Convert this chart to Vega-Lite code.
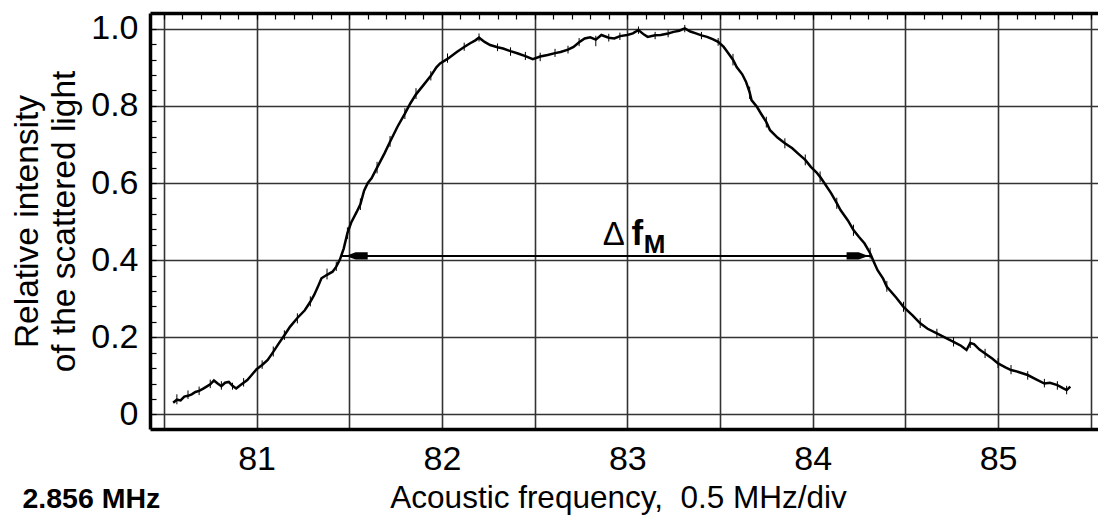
{
  "$schema": "https://vega.github.io/schema/vega-lite/v6.json",
  "width": 950,
  "height": 416,
  "autosize": {"type": "none"},
  "padding": {"left": 150, "top": 13, "right": 0, "bottom": 86},
  "background": "white",
  "config": {"view": {"stroke": null}, "font": "Liberation Sans"},
  "datasets": {
    "curve": [
      {"x": 80.55, "y": 0.030}, {"x": 80.57, "y": 0.038}, {"x": 80.59, "y": 0.036}, {"x": 80.61, "y": 0.046},
      {"x": 80.63, "y": 0.048}, {"x": 80.65, "y": 0.052}, {"x": 80.67, "y": 0.058}, {"x": 80.69, "y": 0.061},
      {"x": 80.71, "y": 0.066}, {"x": 80.73, "y": 0.072}, {"x": 80.75, "y": 0.078}, {"x": 80.77, "y": 0.088},
      {"x": 80.79, "y": 0.080}, {"x": 80.81, "y": 0.073}, {"x": 80.83, "y": 0.082}, {"x": 80.85, "y": 0.084},
      {"x": 80.87, "y": 0.074}, {"x": 80.89, "y": 0.067}, {"x": 80.91, "y": 0.075}, {"x": 80.93, "y": 0.082},
      {"x": 80.95, "y": 0.089}, {"x": 80.97, "y": 0.100}, {"x": 81.00, "y": 0.117}, {"x": 81.03, "y": 0.128},
      {"x": 81.06, "y": 0.141}, {"x": 81.09, "y": 0.162}, {"x": 81.12, "y": 0.184}, {"x": 81.15, "y": 0.205},
      {"x": 81.18, "y": 0.227}, {"x": 81.22, "y": 0.250}, {"x": 81.26, "y": 0.270}, {"x": 81.29, "y": 0.292},
      {"x": 81.31, "y": 0.309}, {"x": 81.33, "y": 0.330}, {"x": 81.35, "y": 0.353}, {"x": 81.38, "y": 0.362},
      {"x": 81.41, "y": 0.370}, {"x": 81.43, "y": 0.383}, {"x": 81.45, "y": 0.402}, {"x": 81.47, "y": 0.430},
      {"x": 81.49, "y": 0.470}, {"x": 81.51, "y": 0.497}, {"x": 81.54, "y": 0.525}, {"x": 81.56, "y": 0.545},
      {"x": 81.58, "y": 0.580}, {"x": 81.60, "y": 0.600}, {"x": 81.62, "y": 0.612}, {"x": 81.65, "y": 0.640},
      {"x": 81.69, "y": 0.677}, {"x": 81.72, "y": 0.707}, {"x": 81.76, "y": 0.746}, {"x": 81.80, "y": 0.780},
      {"x": 81.83, "y": 0.807}, {"x": 81.86, "y": 0.830}, {"x": 81.90, "y": 0.854}, {"x": 81.94, "y": 0.878},
      {"x": 81.97, "y": 0.900}, {"x": 81.99, "y": 0.910}, {"x": 82.03, "y": 0.922}, {"x": 82.08, "y": 0.940},
      {"x": 82.12, "y": 0.953}, {"x": 82.15, "y": 0.962}, {"x": 82.18, "y": 0.970}, {"x": 82.20, "y": 0.977},
      {"x": 82.23, "y": 0.966}, {"x": 82.26, "y": 0.958}, {"x": 82.30, "y": 0.952}, {"x": 82.33, "y": 0.949},
      {"x": 82.37, "y": 0.942}, {"x": 82.41, "y": 0.936}, {"x": 82.45, "y": 0.929}, {"x": 82.49, "y": 0.921},
      {"x": 82.53, "y": 0.928}, {"x": 82.57, "y": 0.932}, {"x": 82.61, "y": 0.937}, {"x": 82.64, "y": 0.940},
      {"x": 82.68, "y": 0.946}, {"x": 82.71, "y": 0.953}, {"x": 82.74, "y": 0.965}, {"x": 82.77, "y": 0.975},
      {"x": 82.80, "y": 0.978}, {"x": 82.83, "y": 0.972}, {"x": 82.86, "y": 0.984}, {"x": 82.90, "y": 0.977},
      {"x": 82.93, "y": 0.975}, {"x": 82.96, "y": 0.981}, {"x": 83.00, "y": 0.984}, {"x": 83.03, "y": 0.988},
      {"x": 83.06, "y": 0.997}, {"x": 83.09, "y": 0.985}, {"x": 83.11, "y": 0.979}, {"x": 83.15, "y": 0.983},
      {"x": 83.18, "y": 0.984}, {"x": 83.22, "y": 0.988}, {"x": 83.25, "y": 0.992}, {"x": 83.28, "y": 0.995},
      {"x": 83.31, "y": 1.001}, {"x": 83.34, "y": 0.993}, {"x": 83.37, "y": 0.988}, {"x": 83.40, "y": 0.983},
      {"x": 83.43, "y": 0.979}, {"x": 83.46, "y": 0.973}, {"x": 83.49, "y": 0.966}, {"x": 83.52, "y": 0.953},
      {"x": 83.54, "y": 0.940}, {"x": 83.57, "y": 0.920}, {"x": 83.59, "y": 0.901}, {"x": 83.62, "y": 0.882},
      {"x": 83.64, "y": 0.863}, {"x": 83.66, "y": 0.835}, {"x": 83.67, "y": 0.815}, {"x": 83.70, "y": 0.797},
      {"x": 83.72, "y": 0.781}, {"x": 83.75, "y": 0.758}, {"x": 83.77, "y": 0.737}, {"x": 83.81, "y": 0.718},
      {"x": 83.85, "y": 0.703}, {"x": 83.89, "y": 0.690}, {"x": 83.92, "y": 0.677}, {"x": 83.96, "y": 0.660},
      {"x": 83.99, "y": 0.642}, {"x": 84.02, "y": 0.628}, {"x": 84.04, "y": 0.616}, {"x": 84.07, "y": 0.595},
      {"x": 84.10, "y": 0.573}, {"x": 84.13, "y": 0.548}, {"x": 84.15, "y": 0.530}, {"x": 84.19, "y": 0.503},
      {"x": 84.22, "y": 0.478}, {"x": 84.25, "y": 0.460}, {"x": 84.28, "y": 0.443}, {"x": 84.31, "y": 0.418},
      {"x": 84.33, "y": 0.395}, {"x": 84.35, "y": 0.374}, {"x": 84.38, "y": 0.352}, {"x": 84.40, "y": 0.331},
      {"x": 84.45, "y": 0.303}, {"x": 84.49, "y": 0.279}, {"x": 84.54, "y": 0.256}, {"x": 84.58, "y": 0.236},
      {"x": 84.62, "y": 0.222}, {"x": 84.67, "y": 0.210}, {"x": 84.72, "y": 0.198}, {"x": 84.76, "y": 0.188},
      {"x": 84.80, "y": 0.178}, {"x": 84.83, "y": 0.167}, {"x": 84.85, "y": 0.185}, {"x": 84.87, "y": 0.182},
      {"x": 84.90, "y": 0.168}, {"x": 84.93, "y": 0.158}, {"x": 84.97, "y": 0.144}, {"x": 85.00, "y": 0.132},
      {"x": 85.04, "y": 0.122}, {"x": 85.07, "y": 0.115}, {"x": 85.11, "y": 0.110}, {"x": 85.16, "y": 0.102},
      {"x": 85.20, "y": 0.092}, {"x": 85.25, "y": 0.080}, {"x": 85.28, "y": 0.082}, {"x": 85.32, "y": 0.076},
      {"x": 85.35, "y": 0.068}, {"x": 85.37, "y": 0.063}, {"x": 85.39, "y": 0.072}
    ],
    "spikes": [
      {"x": 80.57, "lo": 0.026, "hi": 0.052}, {"x": 80.63, "lo": 0.040, "hi": 0.062}, {"x": 80.69, "lo": 0.050, "hi": 0.072},
      {"x": 80.75, "lo": 0.068, "hi": 0.090}, {"x": 80.81, "lo": 0.064, "hi": 0.086}, {"x": 80.87, "lo": 0.064, "hi": 0.082},
      {"x": 80.93, "lo": 0.072, "hi": 0.094}, {"x": 81.03, "lo": 0.118, "hi": 0.140}, {"x": 81.09, "lo": 0.150, "hi": 0.176},
      {"x": 81.15, "lo": 0.193, "hi": 0.218}, {"x": 81.22, "lo": 0.236, "hi": 0.262}, {"x": 81.29, "lo": 0.280, "hi": 0.306},
      {"x": 81.38, "lo": 0.350, "hi": 0.378}, {"x": 81.43, "lo": 0.372, "hi": 0.396}, {"x": 81.49, "lo": 0.455, "hi": 0.485},
      {"x": 81.56, "lo": 0.530, "hi": 0.560}, {"x": 81.65, "lo": 0.625, "hi": 0.655}, {"x": 81.72, "lo": 0.694, "hi": 0.722},
      {"x": 81.80, "lo": 0.766, "hi": 0.794}, {"x": 81.86, "lo": 0.818, "hi": 0.846}, {"x": 81.94, "lo": 0.866, "hi": 0.890},
      {"x": 82.03, "lo": 0.912, "hi": 0.936}, {"x": 82.12, "lo": 0.943, "hi": 0.964}, {"x": 82.20, "lo": 0.967, "hi": 0.988},
      {"x": 82.30, "lo": 0.942, "hi": 0.962}, {"x": 82.37, "lo": 0.930, "hi": 0.952}, {"x": 82.45, "lo": 0.919, "hi": 0.940},
      {"x": 82.53, "lo": 0.916, "hi": 0.938}, {"x": 82.61, "lo": 0.927, "hi": 0.948}, {"x": 82.68, "lo": 0.936, "hi": 0.956},
      {"x": 82.74, "lo": 0.955, "hi": 0.976}, {"x": 82.83, "lo": 0.955, "hi": 0.982}, {"x": 82.90, "lo": 0.967, "hi": 0.987},
      {"x": 82.96, "lo": 0.971, "hi": 0.990}, {"x": 83.06, "lo": 0.987, "hi": 1.006}, {"x": 83.15, "lo": 0.973, "hi": 0.992},
      {"x": 83.22, "lo": 0.978, "hi": 0.998}, {"x": 83.31, "lo": 0.991, "hi": 1.010}, {"x": 83.40, "lo": 0.973, "hi": 0.992},
      {"x": 83.49, "lo": 0.956, "hi": 0.976}, {"x": 83.57, "lo": 0.905, "hi": 0.935}, {"x": 83.66, "lo": 0.818, "hi": 0.850},
      {"x": 83.75, "lo": 0.744, "hi": 0.772}, {"x": 83.85, "lo": 0.690, "hi": 0.716}, {"x": 83.96, "lo": 0.646, "hi": 0.674},
      {"x": 84.04, "lo": 0.602, "hi": 0.630}, {"x": 84.13, "lo": 0.533, "hi": 0.562}, {"x": 84.22, "lo": 0.463, "hi": 0.492},
      {"x": 84.31, "lo": 0.404, "hi": 0.432}, {"x": 84.40, "lo": 0.318, "hi": 0.346}, {"x": 84.49, "lo": 0.266, "hi": 0.292},
      {"x": 84.58, "lo": 0.224, "hi": 0.250}, {"x": 84.67, "lo": 0.198, "hi": 0.222}, {"x": 84.76, "lo": 0.176, "hi": 0.200},
      {"x": 84.85, "lo": 0.172, "hi": 0.200}, {"x": 84.93, "lo": 0.146, "hi": 0.170}, {"x": 85.00, "lo": 0.120, "hi": 0.146},
      {"x": 85.07, "lo": 0.104, "hi": 0.128}, {"x": 85.16, "lo": 0.090, "hi": 0.112}, {"x": 85.25, "lo": 0.070, "hi": 0.092},
      {"x": 85.32, "lo": 0.064, "hi": 0.086}, {"x": 85.37, "lo": 0.052, "hi": 0.074}
    ],
    "arrow": [{"x": 81.46, "x2": 84.32, "y": 0.411}],
    "heads": [{"x": 81.54, "y": 0.411, "dir": "left"}, {"x": 84.242, "y": 0.411, "dir": "right"}]
  },
  "resolve": {"axis": {"x": "independent", "y": "independent"}},
  "layer": [
    {
      "data": {"name": "curve"},
      "mark": {"type": "line", "color": "black", "strokeWidth": 2.5},
      "encoding": {
        "x": {
          "field": "x", "type": "quantitative",
          "scale": {"domain": [80.425, 85.55], "nice": false, "zero": false},
          "axis": {
            "orient": "bottom",
            "values": [80.5, 81, 81.5, 82, 82.5, 83, 83.5, 84, 84.5, 85, 85.5],
            "tickCount": 200,
            "labelExpr": "datum.value % 1 == 0 ? format(datum.value, 'd') : ''",
            "labelFont": "Liberation Sans", "labelFontSize": 34, "labelColor": "black",
            "labelPadding": 13, "labelFlush": false, "labelOverlap": false,
            "ticks": false,
            "grid": true, "gridColor": "#333333", "gridWidth": 1.6,
            "domain": true, "domainColor": "black", "domainWidth": 3.5,
            "title": "Acoustic frequency,\u00a0 0.5 MHz/div",
            "titleFont": "Liberation Sans", "titleFontSize": 31.5, "titleFontWeight": "normal", "titleColor": "black",
            "titleX": 468, "titleY": 78, "titleAlign": "center", "titleBaseline": "alphabetic"
          }
        },
        "y": {
          "field": "y", "type": "quantitative",
          "scale": {"domain": [-0.038, 1.041], "nice": false, "zero": false},
          "axis": {
            "orient": "left",
            "values": [0, 0.2, 0.4, 0.6, 0.8, 1.0],
            "tickCount": 200,
            "labelExpr": "datum.value == 0 ? '0' : format(datum.value, '.1f')",
            "labelFont": "Liberation Sans", "labelFontSize": 34, "labelColor": "black",
            "labelPadding": 12, "labelOverlap": false, "labelFlush": false,
            "ticks": false,
            "grid": true, "gridColor": "#333333", "gridWidth": 1.6,
            "domain": true, "domainColor": "black", "domainWidth": 3.5,
            "title": ["Relative intensity", "of the scattered light"],
            "titleFont": "Liberation Sans", "titleFontSize": 33.5, "titleFontWeight": "normal", "titleColor": "black",
            "titleX": -123, "titleY": 208, "titleAngle": 270, "titleAlign": "center", "titleBaseline": "middle", "titleLineHeight": 37
          }
        }
      }
    },
    {
      "data": {"name": "spikes"},
      "mark": {"type": "rule", "color": "black", "strokeWidth": 1},
      "encoding": {
        "x": {
          "field": "x", "type": "quantitative",
          "scale": {"domain": [80.425, 85.55], "nice": false, "zero": false},
          "axis": {
            "orient": "top", "labels": false, "ticks": false, "grid": false,
            "domain": true, "domainColor": "black", "domainWidth": 3.5, "title": null
          }
        },
        "y": {"field": "lo", "type": "quantitative", "scale": {"domain": [-0.038, 1.041], "nice": false, "zero": false}, "axis": null},
        "y2": {"field": "hi"}
      }
    },
    {
      "data": {"name": "arrow"},
      "mark": {"type": "rule", "color": "black", "strokeWidth": 2},
      "encoding": {
        "x": {
          "field": "x", "type": "quantitative",
          "scale": {"domain": [80.425, 85.55], "nice": false, "zero": false},
          "axis": {
            "orient": "top", "offset": -6,
            "values": [80.5, 80.6, 80.7, 80.8, 80.9, 81, 81.1, 81.2, 81.3, 81.4, 81.5, 81.6, 81.7, 81.8, 81.9, 82, 82.1, 82.2, 82.3, 82.4, 82.5, 82.6, 82.7, 82.8, 82.9, 83, 83.1, 83.2, 83.3, 83.4, 83.5, 83.6, 83.7, 83.8, 83.9, 84, 84.1, 84.2, 84.3, 84.4, 84.5, 84.6, 84.7, 84.8, 84.9, 85, 85.1, 85.2, 85.3, 85.4, 85.5],
            "tickCount": 200,
            "labels": false, "ticks": true, "tickSize": 5, "tickColor": "black", "tickWidth": 1.2,
            "grid": false, "domain": false, "title": null
          }
        },
        "x2": {"field": "x2"},
        "y": {
          "field": "y", "type": "quantitative",
          "scale": {"domain": [-0.038, 1.041], "nice": false, "zero": false},
          "axis": {
            "orient": "left", "offset": -6,
            "values": [0, 0.04, 0.08, 0.12, 0.16, 0.2, 0.24, 0.28, 0.32, 0.36, 0.4, 0.44, 0.48, 0.52, 0.56, 0.6, 0.64, 0.68, 0.72, 0.76, 0.8, 0.84, 0.88, 0.92, 0.96, 1.0, 1.04],
            "tickCount": 200,
            "labels": false, "ticks": true, "tickSize": 5, "tickColor": "black", "tickWidth": 1.2,
            "grid": false, "domain": false, "title": null
          }
        }
      }
    },
    {
      "data": {"name": "heads"},
      "mark": {"type": "point", "filled": true, "color": "black", "opacity": 1, "size": 484},
      "encoding": {
        "x": {"field": "x", "type": "quantitative", "scale": {"domain": [80.425, 85.55], "nice": false, "zero": false}, "axis": null},
        "y": {"field": "y", "type": "quantitative", "scale": {"domain": [-0.038, 1.041], "nice": false, "zero": false}, "axis": null},
        "shape": {
          "field": "dir", "type": "nominal", "legend": null,
          "scale": {"domain": ["left", "right"], "range": ["M-1,0L-0.1,-0.32L1,-0.32L1,0.32L-0.1,0.32Z", "M1,0L0.1,-0.32L-1,-0.32L-1,0.32L0.1,0.32Z"]}
        }
      }
    },
    {
      "data": {"values": [{"x": 82.927, "y": 0.439, "t": "Δ"}]},
      "mark": {"type": "text", "font": "Liberation Sans", "fontSize": 33, "fontWeight": "normal", "color": "black", "align": "center", "baseline": "alphabetic"},
      "encoding": {
        "x": {"field": "x", "type": "quantitative", "scale": {"domain": [80.425, 85.55], "nice": false, "zero": false}, "axis": null},
        "y": {"field": "y", "type": "quantitative", "scale": {"domain": [-0.038, 1.041], "nice": false, "zero": false}, "axis": null},
        "text": {"field": "t"}
      }
    },
    {
      "data": {"values": [{"x": 83.022, "y": 0.439, "t": "f"}]},
      "mark": {"type": "text", "font": "Liberation Sans", "fontSize": 35, "fontWeight": "bold", "color": "black", "align": "left", "baseline": "alphabetic"},
      "encoding": {
        "x": {"field": "x", "type": "quantitative", "scale": {"domain": [80.425, 85.55], "nice": false, "zero": false}, "axis": null},
        "y": {"field": "y", "type": "quantitative", "scale": {"domain": [-0.038, 1.041], "nice": false, "zero": false}, "axis": null},
        "text": {"field": "t"}
      }
    },
    {
      "data": {"values": [{"x": 83.089, "y": 0.418, "t": "M"}]},
      "mark": {"type": "text", "font": "Liberation Sans", "fontSize": 26, "fontWeight": "bold", "color": "black", "align": "left", "baseline": "alphabetic"},
      "encoding": {
        "x": {"field": "x", "type": "quantitative", "scale": {"domain": [80.425, 85.55], "nice": false, "zero": false}, "axis": null},
        "y": {"field": "y", "type": "quantitative", "scale": {"domain": [-0.038, 1.041], "nice": false, "zero": false}, "axis": null},
        "text": {"field": "t"}
      }
    },
    {
      "data": {"values": [{"x": 79.737, "y": -0.243, "t": "2.856 MHz"}]},
      "mark": {"type": "text", "font": "Liberation Sans", "fontSize": 28.5, "fontWeight": "bold", "color": "black", "align": "left", "baseline": "alphabetic"},
      "encoding": {
        "x": {"field": "x", "type": "quantitative", "scale": {"domain": [80.425, 85.55], "nice": false, "zero": false}, "axis": null},
        "y": {"field": "y", "type": "quantitative", "scale": {"domain": [-0.038, 1.041], "nice": false, "zero": false}, "axis": null},
        "text": {"field": "t"}
      }
    }
  ]
}
